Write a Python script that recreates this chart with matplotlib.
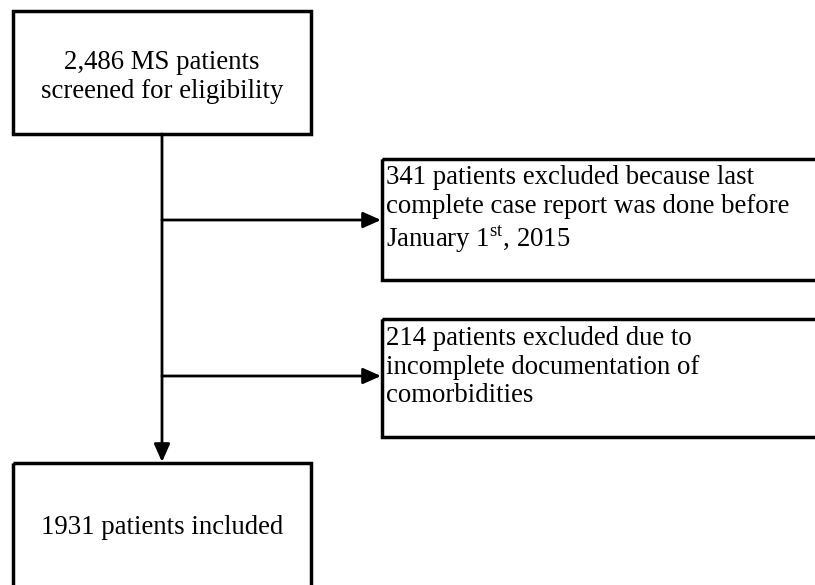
import matplotlib
matplotlib.use("Agg")
import matplotlib.pyplot as plt
from matplotlib.patches import Rectangle

plt.rcParams['font.family'] = ['Liberation Serif', 'DejaVu Serif']
plt.rcParams['mathtext.fontset'] = 'custom'
plt.rcParams['mathtext.rm'] = 'Liberation Serif'

# Data
screened = "2,486"
excluded_date = 341
excluded_doc = 214
included = 1931

box_texts = [
    f"{screened} MS patients\nscreened for eligibility",
    f"{excluded_date} patients excluded because last\ncomplete case report was done before\nJanuary 1$^{{\\mathrm{{st}}}}$, 2015",
    f"{excluded_doc} patients excluded due to\nincomplete documentation of\ncomorbidities",
    f"{included} patients included",
]

W, H = 815, 585
fig = plt.figure(figsize=(W / 100, H / 100), dpi=100)
ax = fig.add_axes([0, 0, 1, 1])
ax.set_xlim(0, W)
ax.set_ylim(H, 0)
ax.axis('off')

# boxes: (x, y, w, h) in pixel coords
boxes = [
    (13, 11, 298, 123),
    (382, 159, 450, 121),
    (382, 319, 450, 118),
    (13, 463, 298, 140),
]
lw_box = 2.5
for (x, y, w, h) in boxes:
    ax.add_patch(Rectangle((x, y), w, h, fill=False, edgecolor='black',
                           linewidth=lw_box, clip_on=True))

fs = 19.3
ls = 1.2
ax.text(162, 77, box_texts[0], ha='center', va='center', fontsize=fs,
        linespacing=ls)
ax.text(386, 210, box_texts[1], ha='left', va='center', fontsize=fs,
        linespacing=ls)
ax.text(386, 367, box_texts[2], ha='left', va='center', fontsize=fs,
        linespacing=ls)
ax.text(162, 527, box_texts[3], ha='center', va='center', fontsize=fs)

# connectors
lw_line = 2.0
vx = 162
style = '-|>,head_length=0.9,head_width=0.4'
ax.annotate('', xy=(vx, 462), xytext=(vx, 134),
            arrowprops=dict(arrowstyle=style, color='black', lw=lw_line,
                            shrinkA=0, shrinkB=0, mutation_scale=12))
for yy in (220, 376):
    ax.annotate('', xy=(381, yy), xytext=(vx, yy),
                arrowprops=dict(arrowstyle=style, color='black', lw=lw_line,
                                shrinkA=0, shrinkB=0, mutation_scale=12))

fig.savefig('out.png', dpi=100, facecolor='white')
